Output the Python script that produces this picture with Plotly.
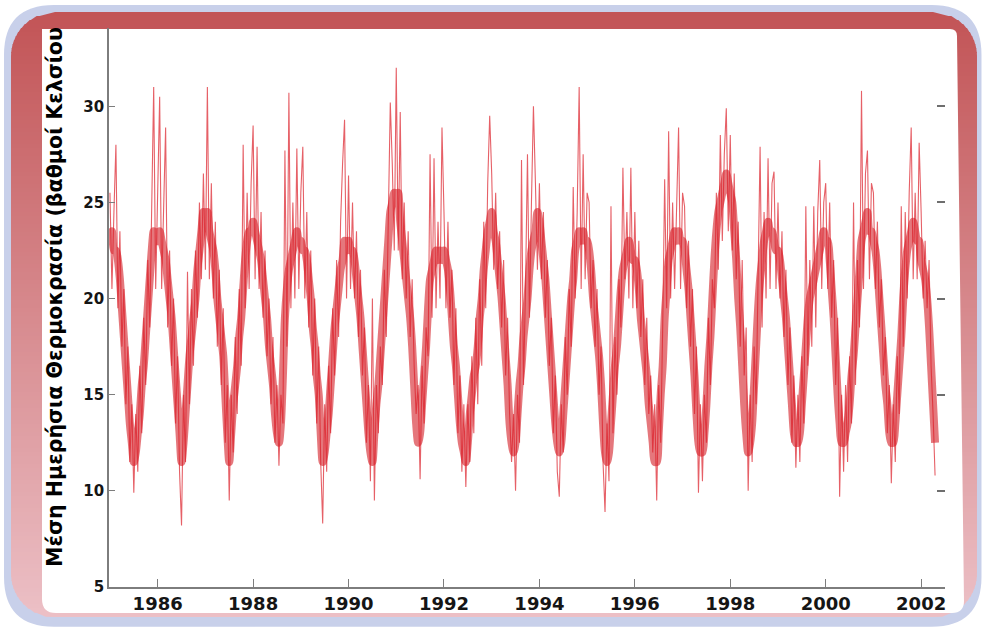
import math
import plotly.graph_objects as go

# ---------------- data (half-monthly samples) ----------------
# daily-scatter readings (upper / lower excursions of the noisy daily series)
temp_1985 = [25.5, 20.5, 24.5, 28.0, 19.5, 23.5, 17.5, 20.5, 14.5, 17.5, 11.5, 14.5,
             9.9, 14.0, 11.0, 16.5, 13.0, 19.0, 15.5, 22.0, 18.5, 25.5, 31.0, 20.5]
temp_1986 = [26.0, 30.5, 20.5, 25.0, 28.9, 18.5, 22.5, 16.5, 20.0, 13.5, 17.0, 11.0,
             8.2, 15.0, 11.5, 21.4, 14.5, 20.5, 16.5, 22.5, 19.0, 25.0, 21.0, 26.5]
temp_1987 = [21.5, 31.0, 21.0, 26.0, 20.0, 24.0, 17.5, 21.5, 15.5, 19.5, 12.5, 15.5,
             9.5, 15.0, 12.0, 18.0, 14.0, 20.5, 16.5, 28.0, 19.5, 25.5, 20.5, 26.0]
temp_1988 = [29.0, 21.0, 27.9, 20.5, 24.5, 19.0, 22.5, 17.0, 20.0, 14.5, 18.0, 12.5,
             15.5, 11.3, 15.0, 13.5, 27.7, 17.5, 30.7, 19.5, 25.0, 20.0, 27.8, 20.5]
temp_1989 = [25.5, 27.9, 20.0, 24.5, 18.5, 22.5, 16.0, 20.0, 13.5, 17.5, 11.5, 8.3,
             14.5, 11.0, 16.5, 13.0, 19.5, 16.0, 22.0, 18.0, 24.0, 27.0, 29.3, 20.0]
temp_1990 = [26.4, 20.5, 25.0, 20.0, 23.5, 18.0, 21.5, 16.0, 18.5, 12.5, 15.5, 10.5,
             20.0, 9.5, 15.5, 13.0, 17.5, 15.5, 21.5, 18.0, 25.0, 30.2, 27.0, 22.5]
temp_1991 = [32.0, 22.5, 29.7, 21.0, 25.0, 20.0, 23.5, 18.0, 21.0, 16.5, 14.0, 15.5,
             10.6, 16.5, 13.5, 18.5, 17.0, 27.5, 19.0, 27.3, 19.5, 24.0, 20.0, 28.9]
temp_1992 = [24.5, 19.5, 24.0, 19.0, 21.5, 15.5, 19.5, 13.0, 16.0, 11.0, 14.5, 10.2,
             14.5, 11.5, 17.0, 13.0, 19.0, 14.5, 21.0, 16.5, 24.0, 19.5, 26.0, 29.5]
temp_1993 = [26.5, 21.5, 25.5, 20.5, 23.5, 18.5, 22.0, 16.0, 19.0, 14.0, 11.5, 14.0,
             10.0, 15.0, 12.5, 27.2, 15.5, 20.5, 27.5, 19.0, 25.0, 30.0, 26.0, 21.5]
temp_1994 = [26.0, 21.0, 24.5, 19.0, 22.0, 16.5, 19.0, 13.0, 16.0, 11.0, 9.7, 14.5,
             12.0, 18.0, 15.0, 20.5, 17.5, 25.8, 20.0, 24.5, 31.0, 20.5, 27.5, 21.0]
temp_1995 = [25.5, 25.0, 19.5, 22.0, 17.5, 20.5, 15.0, 17.5, 11.5, 8.9, 13.5, 10.5,
             24.8, 13.0, 18.0, 15.0, 21.0, 18.5, 26.8, 21.0, 24.5, 20.0, 26.8, 19.5]
temp_1996 = [24.5, 19.5, 23.0, 18.0, 21.0, 15.5, 19.0, 14.0, 16.0, 12.0, 14.5, 9.5,
             15.5, 12.5, 18.5, 26.2, 19.5, 28.7, 20.0, 25.0, 20.5, 25.5, 28.9, 20.5]
temp_1997 = [25.5, 24.8, 19.5, 23.0, 17.5, 20.5, 14.0, 17.5, 9.9, 14.5, 10.5, 15.0,
             12.5, 19.0, 15.5, 21.0, 19.5, 25.5, 21.5, 28.5, 23.0, 27.5, 29.9, 23.5]
temp_1998 = [28.5, 22.5, 26.5, 21.0, 24.0, 17.5, 22.0, 16.0, 18.5, 10.0, 15.0, 11.5,
             17.5, 14.5, 21.0, 27.9, 18.5, 24.5, 20.0, 27.3, 20.5, 26.0, 26.6, 20.5]
temp_1999 = [25.0, 20.0, 23.5, 18.0, 21.5, 15.5, 18.5, 12.5, 16.0, 11.2, 15.0, 11.5,
             17.0, 13.5, 24.8, 16.5, 22.0, 17.5, 24.8, 18.5, 24.5, 27.2, 20.5, 25.0]
temp_2000 = [26.0, 20.5, 25.0, 19.0, 22.0, 15.5, 19.0, 9.7, 15.0, 11.0, 15.5, 11.5,
             17.0, 13.5, 25.0, 15.5, 22.0, 18.5, 30.8, 20.5, 26.5, 27.7, 21.0, 26.0]
temp_2001 = [25.5, 20.5, 24.0, 18.5, 21.0, 16.0, 18.0, 13.0, 15.5, 10.4, 14.5, 11.5,
             17.0, 14.0, 24.8, 17.5, 24.5, 20.0, 25.5, 28.9, 21.0, 25.5, 21.0, 28.1]
temp_2002 = [24.5, 20.0, 23.0, 19.5, 22.0, 16.5, 14.0, 10.8]

# centre of the dense band (same half-monthly grid)
core_1985 = [23, 23.5, 22.5, 22.5, 22, 21, 19.5, 18, 16.5, 15, 13.5, 12.5,
             11.5, 12, 13, 14, 15.5, 16.5, 18, 19.5, 21, 22.5, 23.5, 23]
core_1986 = [23, 23.5, 23, 22.5, 22, 21, 20, 19, 17.5, 16, 14.5, 13,
             11.5, 12.5, 14, 15.5, 17, 18, 19, 20, 21.5, 22.5, 23.5, 24.5]
core_1987 = [24, 24.5, 23.5, 23, 22.5, 21.5, 20, 19, 18, 17, 15, 13,
             11.5, 13, 14.5, 15.5, 16.5, 18, 19, 20.5, 22, 23, 23.5, 23.5]
core_1988 = [24, 23.5, 23, 22.5, 22, 21, 20, 19, 17.5, 16.5, 15.5, 14,
             13, 12.5, 13.5, 16, 19, 20.5, 21.5, 22, 22.5, 23, 23.5, 23]
core_1989 = [23, 22.5, 22.5, 22, 21, 20, 18.5, 17.5, 16, 15, 13, 11.5,
             12, 13, 14, 15.5, 17, 18.5, 19.5, 20.5, 21.5, 22, 23, 22.5]
core_1990 = [23, 22.5, 22.5, 22, 21, 20, 19, 17.5, 16, 14.5, 13, 12,
             11.5, 13, 14.5, 15.5, 17, 18.5, 20, 21.5, 23, 24.5, 25, 25.5]
core_1991 = [25, 25.5, 24, 23, 22, 21, 20, 19, 17.5, 15.5, 13.5, 12.5,
             13, 14.5, 16, 17.5, 19.5, 21, 21.5, 22, 22.5, 22, 22.5, 22]
core_1992 = [22.5, 22, 21.5, 20.5, 19, 17.5, 16.5, 15, 13.5, 12.5, 12, 11.5,
             12.5, 14, 15, 16, 16.5, 17.5, 19, 20, 21.5, 22.5, 23.5, 24]
core_1993 = [24.5, 23.5, 23, 22, 21, 20, 18.5, 17, 15.5, 13.5, 12.5, 12,
             12.5, 14, 15.5, 16.5, 18, 19, 20, 21.5, 22.5, 23, 23.5, 24.5]
core_1994 = [24, 23, 22, 21, 19.5, 18, 16.5, 15, 13.5, 12.5, 12, 12.5,
             14, 15.5, 17, 18.5, 20, 21, 22.5, 23, 23.5, 23, 23.5, 23]
core_1995 = [23, 22.5, 21.5, 20, 19, 18, 17, 15.5, 13.5, 12, 11.5, 12,
             13.5, 15, 16.5, 17.5, 19, 20.5, 21.5, 22, 22.5, 23, 22.5, 22]
core_1996 = [22, 21.5, 20.5, 19, 18, 17, 16, 14.5, 13.5, 12.5, 11.5, 11.5,
             13, 15, 16.5, 19, 20.5, 22, 22.5, 23, 23.5, 23, 23.5, 23]
core_1997 = [23, 22.5, 21.5, 20.5, 19, 17.5, 16, 14, 12.5, 12, 12, 13,
             14.5, 16.5, 18, 20, 22, 23.5, 24.5, 25, 25.5, 26, 26.5, 26]
core_1998 = [25.5, 25, 23.5, 22, 20, 18.5, 16.5, 14.5, 13, 12, 12.5, 13.5,
             15.5, 17.5, 19.5, 21, 22, 23, 23.5, 24, 23.5, 23.5, 23, 22.5]
core_1999 = [22.5, 22, 21, 20, 19, 17.5, 16, 14.5, 13, 12.5, 12.5, 13,
             14.5, 16, 17.5, 19, 20, 20.5, 21, 21.5, 22, 22.5, 23, 23.5]
core_2000 = [23, 23, 22, 20.5, 19, 17, 15, 13.5, 12.5, 12.5, 13, 13.5,
             14.5, 16, 17, 18.5, 20, 21.5, 23, 23.5, 24, 24.5, 23.5, 23.5]
core_2001 = [23, 22.5, 21.5, 20, 18.5, 17, 15.5, 14.5, 13, 12.5, 12.5, 13.5,
             15, 16.5, 18, 20, 21.5, 22.5, 23, 23.5, 24, 23.5, 23, 23]
core_2002 = [22, 21.5, 21, 20, 18.5, 16.5, 14.5, 12.5]

years = list(range(1985, 2003))
daily_lists = [temp_1985, temp_1986, temp_1987, temp_1988, temp_1989, temp_1990,
               temp_1991, temp_1992, temp_1993, temp_1994, temp_1995, temp_1996,
               temp_1997, temp_1998, temp_1999, temp_2000, temp_2001, temp_2002]
core_lists = [core_1985, core_1986, core_1987, core_1988, core_1989, core_1990,
              core_1991, core_1992, core_1993, core_1994, core_1995, core_1996,
              core_1997, core_1998, core_1999, core_2000, core_2001, core_2002]
samples_per_year = 24

x_tick_vals = [1986, 1988, 1990, 1992, 1994, 1996, 1998, 2000, 2002]
y_tick_vals = [5, 10, 15, 20, 25, 30]
y_title = "Μέση Ημερήσια Θερμοκρασία (βαθμοί Κελσίου"


def flatten(lists):
    tt, vv = [], []
    for yr, vals in zip(years, lists):
        for i, v in enumerate(vals):
            tt.append(yr + i / samples_per_year)
            vv.append(v)
    return tt, vv


t_daily, v_daily = flatten(daily_lists)
t_core, v_core = flatten(core_lists)

# ---------------- figure geometry ----------------
W, H = 982, 627


def px(x):
    return x / W


def py(y):
    return 1 - y / H


fig = go.Figure()
fig.add_trace(go.Scatter(x=t_core, y=v_core, mode="lines",
                         line=dict(color="rgba(210,20,30,0.58)", width=8, shape="spline",
                                   smoothing=0.8),
                         hoverinfo="skip", showlegend=False))
fig.add_trace(go.Scatter(x=t_daily, y=v_daily, mode="lines",
                         line=dict(color="rgba(220,28,38,0.7)", width=1.1),
                         hoverinfo="skip", showlegend=False))
fig.add_trace(go.Scatter(x=[], y=[], yaxis="y2", showlegend=False))

shapes = []


def rr_path(x0, y0, x1, y1, r):
    pts = [
        (x0 + r, y0), (x1 - r, y0), ("Q", x1, y0, x1, y0 + r), (x1, y1 - r),
        ("Q", x1, y1, x1 - r, y1), (x0 + r, y1), ("Q", x0, y1, x0, y1 - r),
        (x0, y0 + r), ("Q", x0, y0, x0 + r, y0)]
    s = "M %.5f,%.5f" % (px(pts[0][0]), py(pts[0][1]))
    for p in pts[1:]:
        if p[0] == "Q":
            s += " Q %.5f,%.5f %.5f,%.5f" % (px(p[1]), py(p[2]), px(p[3]), py(p[4]))
        else:
            s += " L %.5f,%.5f" % (px(p[0]), py(p[1]))
    return s + " Z"


# outer lavender rounded border (kept inside the canvas)
shapes.append(dict(type="path", xref="paper", yref="paper", layer="below",
                   path=rr_path(4, 5, 981.5, 626.8, 50),
                   fillcolor="rgb(200,208,234)", line=dict(width=0)))

# red gradient band (horizontal strips clipped to a rounded rectangle)
rx0, ry0, rx1, ry1, rr = 11, 12, 977, 617, 44
c_top = (194, 84, 86)
c_bot = (236, 192, 198)


def extent(y):
    if y < ry0 + rr:
        dy = ry0 + rr - y
    elif y > ry1 - rr:
        dy = y - (ry1 - rr)
    else:
        dy = 0
    inset = rr - math.sqrt(max(rr * rr - dy * dy, 0))
    return rx0 + inset, rx1 - inset


step = 4
y = ry0
while y < ry1:
    yb = min(y + step, ry1)
    f = ((y + yb) / 2 - ry0) / (ry1 - ry0)
    col = "rgb(%d,%d,%d)" % tuple(round(c_top[k] + (c_bot[k] - c_top[k]) * f) for k in range(3))
    a0, a1 = extent(y)
    b0, b1 = extent(yb)
    yb2 = min(yb + 0.8, ry1)
    path = "M %.5f,%.5f L %.5f,%.5f L %.5f,%.5f L %.5f,%.5f Z" % (
        px(a0), py(y), px(a1), py(y), px(b1), py(yb2), px(b0), py(yb2))
    shapes.append(dict(type="path", xref="paper", yref="paper", layer="below",
                       path=path, fillcolor=col, line=dict(width=0)))
    y = yb

# white inner panel
panel = ("M %.5f,%.5f L %.5f,%.5f Q %.5f,%.5f %.5f,%.5f L %.5f,%.5f "
         "Q %.5f,%.5f %.5f,%.5f L %.5f,%.5f Q %.5f,%.5f %.5f,%.5f Z") % (
    px(42), py(29), px(950), py(29), px(957), py(29), px(957), py(36),
    px(964), py(601), px(964), py(613), px(952), py(613),
    px(56), py(613), px(42), py(613), px(42), py(599))
shapes.append(dict(type="path", xref="paper", yref="paper", layer="below",
                   path=panel, fillcolor="white", line=dict(width=0)))

axis_col = "#7d7d7d"
x_font = dict(family="DejaVu Sans, sans-serif", size=18, color="#151515", weight="bold")
y_font = dict(family="DejaVu Sans, sans-serif", size=15, color="#151515", weight="bold")

fig.update_layout(
    width=W, height=H, autosize=False,
    margin=dict(l=0, r=0, t=0, b=0, pad=0, autoexpand=False),
    paper_bgcolor="white", plot_bgcolor="rgba(0,0,0,0)",
    shapes=shapes,
    xaxis=dict(domain=[px(109), px(945)], range=[1984.98, 2002.5], automargin=False,
               tickmode="array", tickvals=x_tick_vals, ticktext=[str(v) for v in x_tick_vals],
               ticks="inside", ticklen=8, tickwidth=1.3, tickcolor=axis_col,
               showline=True, linecolor=axis_col, linewidth=1.6,
               showgrid=False, zeroline=False, tickfont=x_font, anchor="y"),
    yaxis=dict(domain=[py(587), py(28)], range=[5, 34.07], automargin=False,
               tickmode="array", tickvals=y_tick_vals, ticktext=[str(v) for v in y_tick_vals],
               ticks="inside", ticklen=6, tickwidth=1.3, tickcolor=axis_col,
               showline=True, linecolor=axis_col, linewidth=1.6,
               showgrid=False, zeroline=False, tickfont=y_font, anchor="x"),
    yaxis2=dict(overlaying="y", side="right", anchor="x", range=[5, 34.07], automargin=False,
                tickmode="array", tickvals=y_tick_vals, showticklabels=False,
                ticks="inside", ticklen=8, tickwidth=1.5, tickcolor="#6e6e6e",
                showline=False, showgrid=False, zeroline=False),
    annotations=[dict(text=y_title, xref="paper", yref="paper",
                      x=px(55), y=py(569), xanchor="center", yanchor="bottom",
                      textangle=-90, showarrow=False,
                      font=dict(family="DejaVu Sans, sans-serif", size=20.6,
                                color="black", weight="bold"))],
)

fix_page = (
    "document.documentElement.style.margin='0';"
    "document.body.style.margin='0';"
    "document.body.style.overflow='hidden';"
)
fig.write_html("out.html", config={"displayModeBar": False}, post_script=fix_page)
